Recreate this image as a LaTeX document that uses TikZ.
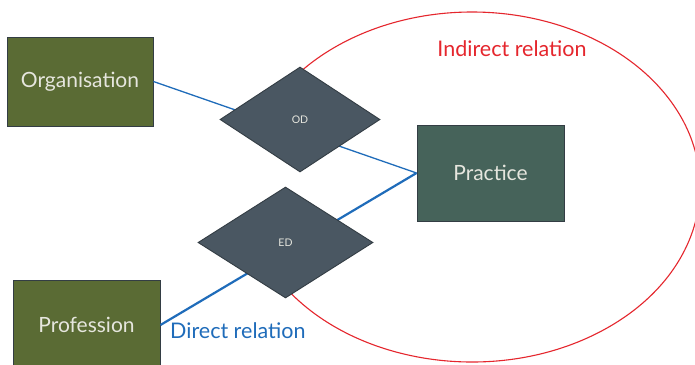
\documentclass[tikz,border=0pt]{standalone}
\usepackage{fontspec}
\setmainfont{Lato}
\usetikzlibrary{shapes.geometric}
\definecolor{olive}{HTML}{5A6B34}
\definecolor{prac}{HTML}{46635A}
\definecolor{dia}{HTML}{4A5762}
\definecolor{edge}{HTML}{333D44}
\definecolor{lbl}{HTML}{E6E6DE}
\definecolor{lblue}{HTML}{1F6CBA}
\definecolor{lred}{HTML}{E5262D}
\tikzset{
  entbox/.style={draw=edge, line width=0.9pt, rectangle, inner sep=0pt, text=lbl, font=\fontsize{21}{25}\selectfont},
  relbox/.style={draw=edge, line width=0.9pt, diamond, inner sep=0pt, fill=dia, text=lbl, font=\fontsize{10.5}{12}\selectfont},
  link/.style={draw=lblue},
  lab/.style={font=\fontsize{21.5}{25}\selectfont, inner sep=0pt},
}
\begin{document}
\begin{tikzpicture}[x=1pt,y=-1pt]
\useasboundingbox (0,0) rectangle (695,364);
\clip (0,0) rectangle (695,364);
\fill[white] (0,0) rectangle (695,364);
% indirect-relation arc (ends hidden under the diamonds)
\coordinate (ec) at (472,187);
\draw[lred, line width=1.1pt] (ec) ++(145:228 and 175)
  arc[start angle=145, end angle=-140, x radius=228, y radius=175];
% entity boxes
\node[entbox, fill=olive, minimum width=146pt, minimum height=89pt] (org) at (80,81.5) {Organisation};
\node[entbox, fill=olive, minimum width=147pt, minimum height=90pt] (prof) at (86.5,325) {Profession};
\node[entbox, fill=prac, minimum width=147pt, minimum height=96pt] (prac) at (490.5,173) {Practice};
% connectors (behind diamonds)
\draw[link, line width=1.3pt] (org.east) -- (prac.west);
\draw[link, line width=2.2pt] (prof.east) -- (prac.west);
% relationship diamonds
\node[relbox, minimum width=160pt, minimum height=105pt] (od) at (300,119.5) {OD};
\node[relbox, minimum width=175pt, minimum height=111pt] (ed) at (285.5,242.5) {ED};
% labels
\node[lab, text=lred] (ind) at (512,49) {Indirect relation};
\node[lab, text=lblue, anchor=west] (dir) at (170,331) {Direct relation};
\end{tikzpicture}
\end{document}
